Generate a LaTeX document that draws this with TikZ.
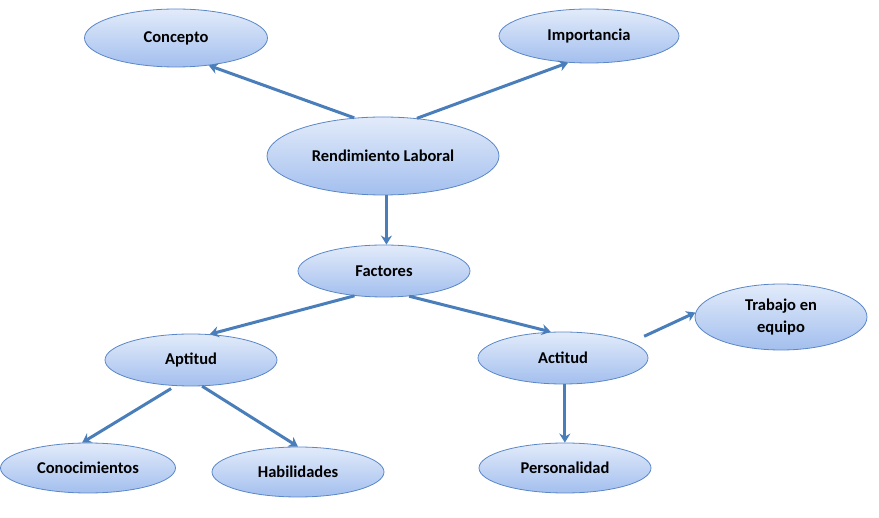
\documentclass[tikz,border=0pt]{standalone}
\usepackage{fontspec}
\setmainfont{Carlito}
\usepackage{tikz}
\usetikzlibrary{shapes.geometric, arrows.meta, positioning}

\definecolor{nodeline}{HTML}{5A87C8}
\definecolor{nodetop}{HTML}{E2EBFA}
\definecolor{nodebottom}{HTML}{A3BFEE}
\definecolor{arrowblue}{HTML}{4A7EBB}

\begin{document}
\begin{tikzpicture}[x=1pt, y=-1pt,
  topic/.style={ellipse, draw=nodeline, line width=0.8pt, top color=nodetop, bottom color=nodebottom, font=\fontsize{16.5}{22}\selectfont\bfseries, align=center, inner sep=0pt, minimum width=172pt, minimum height=52pt},
  arrow/.style={-{Stealth[length=9pt, width=11pt, inset=3pt]}, line width=3pt, draw=arrowblue}
]
  \useasboundingbox (0,0) rectangle (879,518);

  % Centre and top row
  \node[topic, minimum width=232pt, minimum height=78pt] (rend) at (383,156) {Rendimiento Laboral};
  \node[topic, minimum width=183pt, minimum height=58pt] (concepto) at (176,38) {Concepto};
  \node[topic, minimum width=180pt, minimum height=54pt] (importancia) at (589,36) {Importancia};

  \draw[arrow] (rend.127) -- (concepto.-40);
  \draw[arrow] (rend.48) -- (importancia.232);

  % Factors layer
  \node[topic] (factores) at (384,271) {Factores};
  \node[topic] (aptitud) at (191,360) {Aptitud};
  \node[topic, minimum width=170pt] (actitud) at (563,358) {Actitud};
  \node[topic, minimum height=66pt] (trabajo) at (781,317) {Trabajo en\\equipo};

  \draw[arrow] (rend.-85) -- (rend.-85 |- factores.north);
  \draw[arrow] (factores.220) -- (aptitud.54);
  \draw[arrow] (factores.-45) -- (actitud.115);
  \draw[arrow, shorten <=14pt] (actitud.13) -- (trabajo.177);

  % Bottom row
  \node[topic, minimum width=175pt, minimum height=50pt] (conocimientos) at (88,468) {Conocimientos};
  \node[topic, minimum height=50pt] (habilidades) at (298,472) {Habilidades};
  \node[topic, minimum height=50pt] (personalidad) at (565,468) {Personalidad};

  \draw[arrow, shorten <=5pt] (aptitud.239) -- (conocimientos.103);
  \draw[arrow] (aptitud.-67) -- (habilidades.north);
  \draw[arrow] (actitud.-86) -- (actitud.-86 |- personalidad.north);

\end{tikzpicture}
\end{document}
